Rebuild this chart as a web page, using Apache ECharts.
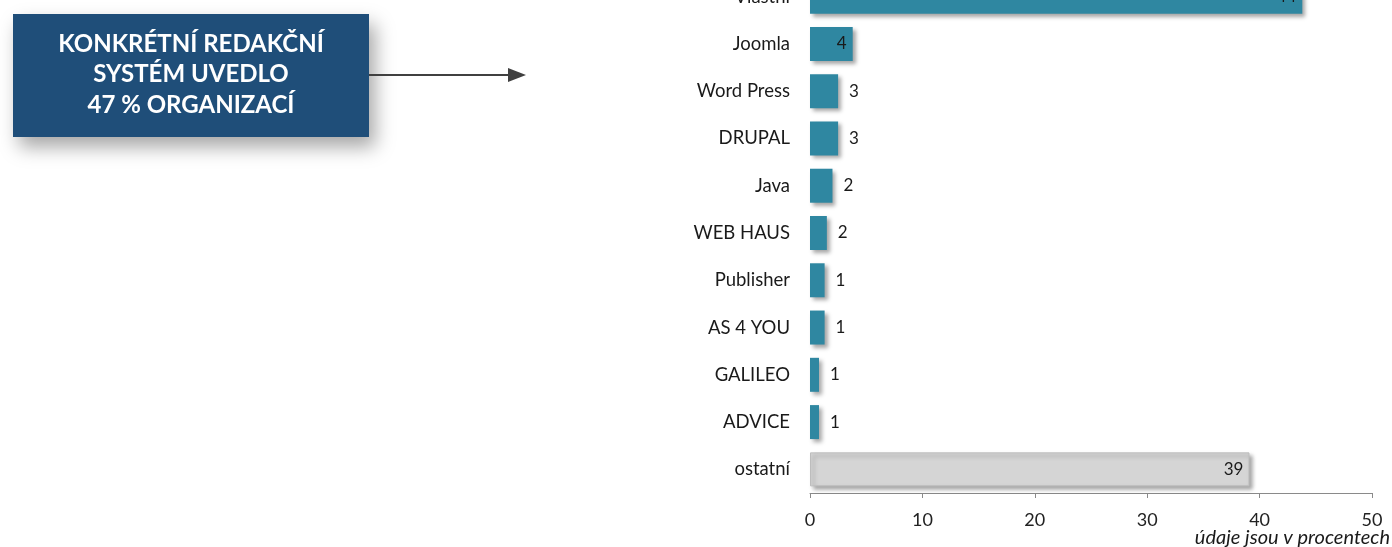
<!DOCTYPE html>
<html><head><meta charset="utf-8">
<script src="https://cdn.jsdelivr.net/npm/echarts@6/dist/echarts.min.js"></script>
<style>html,body{margin:0;padding:0;background:#fff;overflow:hidden;width:1392px;height:547px}#c{width:1392px;height:574px;margin-top:-27px}</style>
</head><body><div id="c"></div>
<script>
const categories = ['Vlastní','Joomla','Word Press','DRUPAL','Java','WEB HAUS','Publisher','AS 4 YOU','GALILEO','ADVICE','ostatní'];
const values = [43.8, 3.8, 2.5, 2.5, 2.0, 1.5, 1.3, 1.3, 0.8, 0.8, 39.1];
const xTicks = [0, 10, 20, 30, 40, 50];
const boxLines = ['KONKRÉTNÍ REDAKČNÍ', 'SYSTÉM UVEDLO', '47 % ORGANIZACÍ'];
const footnote = 'údaje jsou v procentech';

const font = 'Lato, "Open Sans", sans-serif';
const teal = '#2f87a1';
const OFF = 27; // page offset of the canvas
const data = values.map((v, i) => {
  const other = i === categories.length - 1;
  const inside = v >= 3.5;
  return {
    value: v,
    itemStyle: other ? { color: '#d5d5d5', borderColor: '#bdbdbd', borderWidth: 1 } : { color: teal },
    label: { position: inside ? 'insideRight' : 'right', distance: inside ? 6 : 11 }
  };
});

const chart = echarts.init(document.getElementById('c'), null, { renderer: 'canvas' });
chart.setOption({
  animation: false,
  grid: { left: 810, right: 20, top: 0, bottom: 54 },
  xAxis: {
    type: 'value', min: 0, max: 50, interval: 10,
    axisLine: { show: true, lineStyle: { color: '#8a8a8a', width: 1 } },
    axisTick: { show: true, length: 5, lineStyle: { color: '#8a8a8a' } },
    splitLine: { show: false },
    axisLabel: { margin: 18, fontFamily: font, fontSize: 18, color: '#222',
      formatter: v => xTicks.includes(v) ? String(v) : '' }
  },
  yAxis: {
    type: 'category', data: categories, inverse: true,
    axisLine: { show: false }, axisTick: { show: false },
    axisLabel: { margin: 20, fontFamily: font, fontSize: 18.5, color: '#1a1a1a' }
  },
  series: [{
    type: 'bar', data: data, barWidth: 34,
    itemStyle: { shadowColor: 'rgba(0,0,0,0.35)', shadowBlur: 4, shadowOffsetX: 3, shadowOffsetY: 3 },
    label: { show: true, fontFamily: font, fontSize: 17, color: '#1a1a1a',
      formatter: p => String(Math.round(p.value)) }
  }],
  graphic: [
    { type: 'rect', shape: { x: 13, y: 14 + OFF, width: 356, height: 123 },
      style: { fill: '#1f4e79', shadowColor: 'rgba(0,0,0,0.35)', shadowBlur: 18, shadowOffsetX: 6, shadowOffsetY: 10 } },
    { type: 'text', x: 191, y: 29 + OFF, style: {
        text: boxLines.join('\n'), textAlign: 'center', fill: '#fff',
        fontFamily: font, fontWeight: 'bold', fontSize: 24, lineHeight: 30.5 } },
    { type: 'line', shape: { x1: 369, y1: 75 + OFF, x2: 512, y2: 75 + OFF }, style: { stroke: '#404040', lineWidth: 2 } },
    { type: 'polygon', shape: { points: [[526, 75 + OFF], [508, 68 + OFF], [508, 82 + OFF]] }, style: { fill: '#404040' } },
    { type: 'text', x: 1390, y: 528 + OFF, style: {
        text: footnote, textAlign: 'right', fill: '#1a1a1a', fontFamily: font, fontStyle: 'italic', fontSize: 20 } }
  ]
});
</script></body></html>
